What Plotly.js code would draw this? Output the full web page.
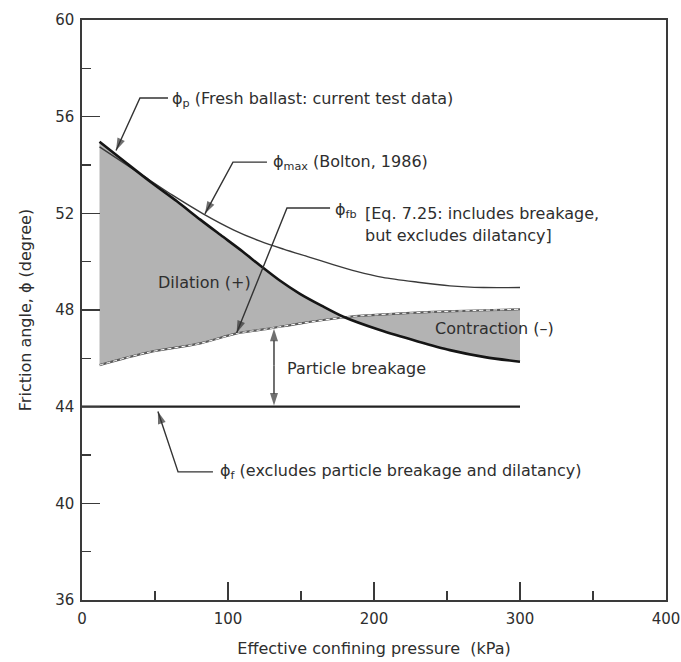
<!DOCTYPE html>
<html>
<head>
<meta charset="utf-8">
<script src="https://cdn.plot.ly/plotly-3.0.1.min.js"></script>
<style>html,body{margin:0;padding:0;background:#fff;}#chart{width:681px;height:662px;}</style>
</head>
<body>
<div id="chart"></div>
<script>
// ---- data ----
const pressureP = [12, 30, 47, 65, 81, 95, 110, 122, 135, 149, 164, 179, 204, 230, 252, 276, 300];
const phiP      = [54.96, 54.10, 53.30, 52.50, 51.74, 51.10, 50.42, 49.84, 49.24, 48.68, 48.18, 47.72, 47.17, 46.70, 46.34, 46.05, 45.86];

const pressureMax = [12, 42, 62, 83, 104, 122, 138, 155, 172, 188, 206, 230, 252, 275, 300];
const phiMax      = [54.75, 53.55, 52.75, 51.98, 51.31, 50.85, 50.52, 50.20, 49.88, 49.60, 49.35, 49.15, 49.00, 48.93, 48.93];

const pressureFb = [12, 30, 47, 81, 106, 127, 150, 183, 210, 240, 270, 300];
const phiFb      = [45.72, 46.02, 46.27, 46.62, 47.03, 47.22, 47.45, 47.72, 47.83, 47.92, 47.98, 48.03];

const pressureF = [0, 300];
const phiF      = [44, 44];

const xTickVals = [0, 100, 200, 300, 400];
const yTickVals = [36, 40, 44, 48, 52, 56, 60];

// ---- styles ----
const FONT = 'DejaVu Sans, Arial, sans-serif';
const TXT = '#2e2e2e';
const AX = '#3a3a3a';

const fillX = pressureP.concat(pressureFb.slice().reverse());
const fillY = phiP.concat(phiFb.slice().reverse());

const traces = [
  {x: fillX, y: fillY, mode: 'lines', fill: 'toself', fillcolor: '#b3b3b3',
   line: {width: 0}, hoverinfo: 'skip'},
  {x: pressureFb, y: phiFb, mode: 'lines', line: {color: '#5a5a5a', width: 2.2, shape: 'spline', smoothing: 0.8}},
  {x: pressureFb, y: phiFb, mode: 'lines', line: {color: '#ffffff', width: 1, dash: '4px,3px', shape: 'spline', smoothing: 0.8}},
  {x: pressureMax, y: phiMax, mode: 'lines', line: {color: '#3a3a3a', width: 1.4, shape: 'spline', smoothing: 0.8}},
  {x: pressureP, y: phiP, mode: 'lines', line: {color: '#151515', width: 2.6, shape: 'spline', smoothing: 0.8}},
  {x: pressureF, y: phiF, mode: 'lines', line: {color: '#222222', width: 2.2}}
];

// leader lines with arrowheads (start of line, bend, tip)
function leader(xs, ys) {
  const sizes = xs.map((_, i) => i === xs.length - 1 ? 13 : 0);
  return {x: xs, y: ys, mode: 'lines+markers', hoverinfo: 'skip',
          line: {color: '#333', width: 1.4},
          marker: {symbol: 'arrow', angleref: 'previous', size: sizes, color: '#333', line: {width: 0}}};
}
traces.push(
  leader([58.9, 39.7, 23.3], [56.77, 56.77, 54.6]),
  leader([126.7, 103.4, 84.2], [54.12, 54.12, 51.98]),
  leader([169.9, 140.4, 105.9], [52.22, 52.22, 47.05]),
  leader([131.5, 131.5], [45.7, 47.22]),
  leader([131.5, 131.5], [45.7, 44.05]),
  leader([89.7, 65.8, 52], [41.3, 41.3, 43.8])
);

function txt(x, y, text, anchor) {
  return {x: x, y: y, xref: 'x', yref: 'y', text: text, showarrow: false,
          xanchor: anchor || 'left', yanchor: 'middle',
          font: {family: FONT, size: 16, color: TXT}};
}

const annotations = [
  txt(60.5, 56.72, 'ϕ<sub>p</sub> (Fresh ballast: current test data)'),
  txt(129.5, 54.12, 'ϕ<sub>max</sub> (Bolton, 1986)'),
  txt(172, 52.1, 'ϕ<sub>fb</sub>'),
  txt(192.5, 52.01, '[Eq. 7.25: includes breakage,'),
  txt(192.5, 51.1, 'but excludes dilatancy]'),
  txt(83.6, 49.12, 'Dilation (+)', 'center'),
  txt(240.4, 47.25, 'Contraction (–)'),
  txt(139, 45.6, 'Particle breakage'),
  txt(93.2, 41.3, 'ϕ<sub>f</sub> (excludes particle breakage and dilatancy)')
];

const layout = {
  width: 681, height: 662,
  margin: {l: 82, r: 15, t: 20, b: 62, pad: 0},
  paper_bgcolor: '#ffffff', plot_bgcolor: '#ffffff',
  showlegend: false,
  font: {family: FONT, size: 15, color: TXT},
  xaxis: {
    range: [0, 400], tickvals: xTickVals, ticktext: xTickVals.map(String),
    ticks: 'inside', ticklen: 18, tickwidth: 1.4, tickcolor: AX,
    minor: {dtick: 50, tick0: 0, ticks: 'inside', ticklen: 9, tickwidth: 1.4, tickcolor: AX, showgrid: false},
    showline: true, linecolor: AX, linewidth: 1.6, mirror: true,
    showgrid: false, zeroline: false, ticklabelstandoff: 4,
    tickfont: {family: FONT, size: 15, color: TXT},
    title: {text: 'Effective confining pressure  (kPa)', font: {family: FONT, size: 16, color: TXT}, standoff: 16}
  },
  yaxis: {
    range: [36, 60], tickvals: yTickVals, ticktext: yTickVals.map(String),
    ticks: 'inside', ticklen: 18, tickwidth: 1.4, tickcolor: AX,
    minor: {dtick: 2, tick0: 36, ticks: 'inside', ticklen: 9, tickwidth: 1.4, tickcolor: AX, showgrid: false},
    showline: true, linecolor: AX, linewidth: 1.6, mirror: true,
    showgrid: false, zeroline: false, ticklabelstandoff: 3,
    tickfont: {family: FONT, size: 15, color: TXT},
    title: {text: 'Friction angle, ϕ (degree)', font: {family: FONT, size: 16, color: TXT}, standoff: 20}
  },
  annotations: annotations
};

Plotly.newPlot('chart', traces, layout, {staticPlot: true, displayModeBar: false});
</script>
</body>
</html>
